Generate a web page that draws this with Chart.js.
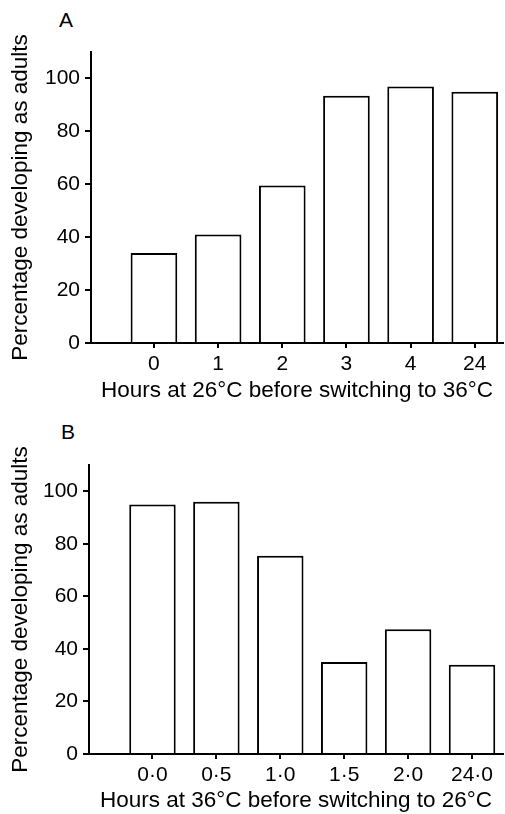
<!DOCTYPE html>
<html>
<head>
<meta charset="utf-8">
<script src="https://cdn.jsdelivr.net/npm/chart.js@4.4.1/dist/chart.umd.min.js"></script>
<style>
  html, body { margin: 0; padding: 0; background: #fff; }
  body { width: 505px; height: 814px; position: relative; overflow: hidden; font-family: "Liberation Sans", Arial, sans-serif; }
  canvas { position: absolute; left: 0; }
  .panel { position: absolute; font-size: 21px; line-height: 21px; color: #000; }
</style>
</head>
<body>
<div class="panel" style="left:59px; top:9px;">A</div>
<canvas id="chartA" width="505" height="405" style="top:0px;"></canvas>
<div class="panel" style="left:61px; top:421px;">B</div>
<canvas id="chartB" width="505" height="409" style="top:405px;"></canvas>
<script>
// ---- Data ----
const labelsA = ['0', '1', '2', '3', '4', '24'];
const valuesA = [34, 41, 59.5, 93.5, 97, 95];
const labelsB = ['0·0', '0·5', '1·0', '1·5', '2·0', '24·0'];
const valuesB = [95, 96, 75.5, 35, 47.5, 34];
const yTicks = [0, 20, 40, 60, 80, 100];
const titleXA = 'Hours at 26°C before switching to 36°C';
const titleXB = 'Hours at 36°C before switching to 26°C';
const titleY = 'Percentage developing as adults';

const FONT = '"Liberation Sans", Arial, sans-serif';

function makeChart(id, labels, values, xTitle, geo) {
  const ctx = document.getElementById(id);
  return new Chart(ctx, {
    type: 'bar',
    data: {
      datasets: [{
        data: values.map((v, i) => ({ x: i, y: v })),
        backgroundColor: '#ffffff',
        borderColor: '#000000',
        borderWidth: 2,
        borderSkipped: 'start',
        categoryPercentage: 1,
        barPercentage: 0.727
      }]
    },
    options: {
      responsive: false,
      animation: false,
      events: [],
      layout: { padding: { top: geo.top, right: geo.right, left: 0, bottom: 0 } },
      plugins: { legend: { display: false }, tooltip: { enabled: false }, title: { display: false } },
      scales: {
        x: {
          type: 'linear',
          offset: false,
          min: geo.xmin,
          max: geo.xmax,
          afterBuildTicks: s => { s.ticks = labels.map((_, i) => ({ value: i })); },
          afterFit: s => { s.height = geo.xh; },
          ticks: {
            callback: (v) => labels[v],
            font: { family: FONT, size: 21 },
            color: '#000',
            padding: 4,
            autoSkip: false,
            maxRotation: 0,
            minRotation: 0
          },
          grid: { display: true, offset: false, drawOnChartArea: false, drawTicks: true, tickLength: 5, color: '#000', lineWidth: 2 },
          border: { display: true, color: '#000', width: 2 },
          title: {
            display: true, text: xTitle, color: '#000',
            font: { family: FONT, size: 22.5 },
            padding: { top: 0, bottom: geo.xtpb }
          }
        },
        y: {
          type: 'linear',
          min: 0,
          max: 110,
          afterBuildTicks: s => { s.ticks = yTicks.map(v => ({ value: v })); },
          afterFit: s => { s.width = geo.yw; },
          ticks: {
            font: { family: FONT, size: 21 },
            color: '#000',
            padding: 5
          },
          grid: { display: true, drawOnChartArea: false, drawTicks: true, tickLength: 6, color: '#000', lineWidth: 2 },
          border: { display: true, color: '#000', width: 2 },
          title: {
            display: true, text: titleY, color: '#000',
            font: { family: FONT, size: 22.5 },
            padding: { top: 7, bottom: 0 }
          }
        }
      }
    }
  });
}

makeChart('chartA', labelsA, valuesA, titleXA, { top: 52, right: 2, xmin: -0.981, xmax: 5.44, xh: 62, yw: 91, xtpb: 1 });
makeChart('chartB', labelsB, valuesB, titleXB, { top: 60, right: 2, xmin: -0.993, xmax: 5.485, xh: 60, yw: 89, xtpb: 0 });
</script>
</body>
</html>
